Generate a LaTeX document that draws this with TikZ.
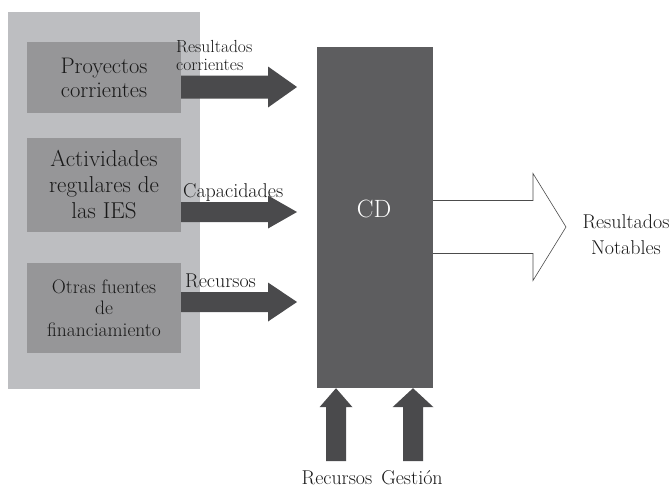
\documentclass[tikz,border=0pt]{standalone}
\usepackage{xcolor}
\usepackage{tikz}
\usetikzlibrary{calc}
\definecolor{panelgray}{HTML}{BDBEC1}
\definecolor{boxgray}{HTML}{969698}
\definecolor{cdgray}{HTML}{5D5D5F}
\definecolor{arrowgray}{HTML}{4A4A4C}
\colorlet{textgray}{black!90}

% block arrow, horizontal: base, tip, shaft half, head half, head length
\newcommand{\harrow}[5]{%
	\fill[arrowgray] ($(#1)+(0,-#3)$) -- ($(#2)+(-#5,-#3)$) -- ($(#2)+(-#5,-#4)$) -- (#2)
		-- ($(#2)+(-#5,#4)$) -- ($(#2)+(-#5,#3)$) -- ($(#1)+(0,#3)$) -- cycle;}
% block arrow, pointing up
\newcommand{\varrow}[5]{%
	\fill[arrowgray] ($(#1)+(-#3,0)$) -- ($(#2)+(-#3,#5)$) -- ($(#2)+(-#4,#5)$) -- (#2)
		-- ($(#2)+(#4,#5)$) -- ($(#2)+(#3,#5)$) -- ($(#1)+(#3,0)$) -- cycle;}

\begin{document}
\begin{tikzpicture}[x=1pt, y=-1pt,
		box/.style={fill=boxgray, text=textgray, align=center, minimum width=154pt, inner sep=0pt},
		lbl/.style={text=textgray, inner sep=0pt}]
		\useasboundingbox (0,0) rectangle (672,488);

		% sources
		\node[fill=panelgray, minimum width=192pt, minimum height=377pt, inner sep=0pt] (panel) at (104,200.5) {};
		\node[box, minimum height=71pt, font=\fontsize{22.5}{24}\selectfont] (proy) at (104,77.5) {Proyectos\\corrientes};
		\node[box, minimum height=94pt, font=\fontsize{23}{26}\selectfont] (activ) at (104,185) {Actividades\\regulares de\\las IES};
		\node[box, minimum height=90pt, font=\fontsize{19.5}{21.5}\selectfont] (otras) at (104,308) {Otras fuentes\\de\\financiamiento};

		% white output arrow, under the block
		\coordinate (out) at (566,227);
		\draw[black!70, fill=white, line width=0.6pt] (433,200.5) -- ($(out)+(-33,-26.5)$) -- ($(out)+(-33,-53.5)$) -- (out)
			-- ($(out)+(-33,53.5)$) -- ($(out)+(-33,26.5)$) -- (433,253.5);

		\node[fill=cdgray, text=white, minimum width=116pt, minimum height=341pt, inner sep=0pt] (cd) at (375,217.5) {};
		\node[text=white, inner sep=0pt, font=\fontsize{25}{28}\selectfont] (cdlbl) at (374,209) {CD};

		% inputs
		\coordinate (in1) at (297,87);
		\coordinate (in2) at (297,212);
		\coordinate (in3) at (297,302);
		\coordinate (s1) at (proy.east |- in1);
		\coordinate (s2) at (activ.east |- in2);
		\coordinate (s3) at (otras.east |- in3);
		\harrow{s1}{in1}{11.5}{20.5}{29}
		\harrow{s2}{in2}{10}{16.5}{29}
		\harrow{s3}{in3}{10}{19.5}{29}

		\node[lbl, anchor=west, align=left, font=\fontsize{17.5}{18}\selectfont] (l1) at (176,55) {Resultados\\corrientes};
		\node[lbl, anchor=base west, font=\fontsize{20}{22}\selectfont] (l2) at (183,197) {Capacidades};
		\node[lbl, anchor=base west, font=\fontsize{20}{22}\selectfont] (l3) at (185,287) {Recursos};

		% bottom inputs
		\coordinate (b1) at (336,461);
		\coordinate (b2) at (413,461);
		\coordinate (t1) at (b1 |- cd.south);
		\coordinate (t2) at (b2 |- cd.south);
		\varrow{b1}{t1}{10}{16.5}{19}
		\varrow{b2}{t2}{10}{20.5}{19}

		\node[lbl, anchor=base, font=\fontsize{20}{22}\selectfont] (rec) at (337,484) {Recursos};
		\node[lbl, anchor=base, font=\fontsize{20}{22}\selectfont] (gest) at (412,484) {Gestión};

		\node[lbl, align=center, font=\fontsize{20}{26}\selectfont] (notab) at (626,235) {Resultados\\Notables};
	\end{tikzpicture}
\end{document}
